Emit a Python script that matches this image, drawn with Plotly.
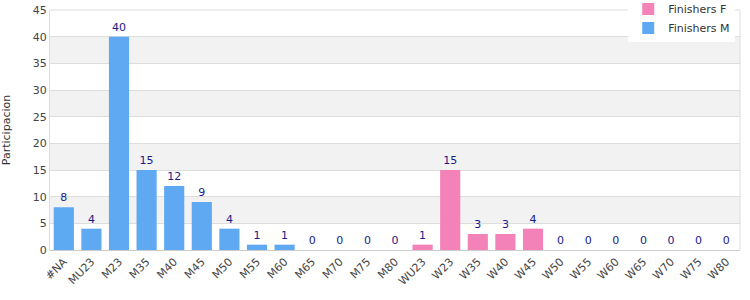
import plotly.graph_objects as go

categories = ["#NA", "MU23", "M23", "M35", "M40", "M45", "M50", "M55", "M60", "M65", "M70", "M75", "M80",
              "WU23", "W23", "W35", "W40", "W45", "W50", "W55", "W60", "W65", "W70", "W75", "W80"]
male_cats = categories[:13]
male_vals = [8, 4, 40, 15, 12, 9, 4, 1, 1, 0, 0, 0, 0]
female_cats = categories[13:]
female_vals = [1, 15, 3, 3, 4, 0, 0, 0, 0, 0, 0, 0]

y_ticks = [0, 5, 10, 15, 20, 25, 30, 35, 40, 45]
bands = [(5, 10), (15, 20), (25, 30), (35, 40)]

font = "DejaVu Sans, Verdana, sans-serif"
label_color = "#1a1a8c"

fig = go.Figure()
fig.add_trace(go.Bar(
    x=female_cats, y=female_vals, name="Finishers F",
    marker=dict(color="#f282b8", line=dict(width=0)),
    text=[str(v) for v in female_vals], textposition="outside",
    textfont=dict(color=label_color, size=11, family=font), cliponaxis=False,
))
fig.add_trace(go.Bar(
    x=male_cats, y=male_vals, name="Finishers M",
    marker=dict(color="#5fa8f2", line=dict(width=0)),
    text=[str(v) for v in male_vals], textposition="outside",
    textfont=dict(color=label_color, size=11, family=font), cliponaxis=False,
))

shapes = []
for lo, hi in bands:
    shapes.append(dict(type="rect", xref="paper", yref="y", x0=0, x1=1, y0=lo, y1=hi,
                       fillcolor="#f2f2f2", line=dict(width=0), layer="below"))
shapes.append(dict(type="line", xref="paper", yref="paper", x0=0, x1=1, y0=1, y1=1,
                   line=dict(color="#dddddd", width=1), layer="below"))
shapes.append(dict(type="line", xref="paper", yref="paper", x0=1, x1=1, y0=0, y1=1,
                   line=dict(color="#dddddd", width=1), layer="below"))

fig.update_layout(
    width=750, height=300,
    margin=dict(l=50, r=10, t=10, b=50, autoexpand=False),
    paper_bgcolor="white", plot_bgcolor="white",
    barmode="overlay", bargap=0.27,
    font=dict(family=font, size=11, color="#444444"),
    shapes=shapes,
    legend=dict(x=0.838, y=1.065, xanchor="left", yanchor="top",
                bgcolor="white", font=dict(size=11, color="#333333"),
                traceorder="normal", itemwidth=30, tracegroupgap=0),
    xaxis=dict(categoryorder="array", categoryarray=categories, tickangle=-45,
               showline=True, linecolor="#cccccc", linewidth=1, ticks="",
               tickfont=dict(size=11, color="#444444"), showgrid=False, range=[-0.5, 24.5]),
    yaxis=dict(range=[0, 45], tickvals=y_ticks, showgrid=True, gridcolor="#dddddd",
               showline=True, linecolor="#dddddd", zeroline=False, ticks="",
               tickfont=dict(size=11, color="#444444"),
               title=dict(text="Participacion", font=dict(size=11, color="#333333"), standoff=21)),
)

fig.write_html("out.html")
